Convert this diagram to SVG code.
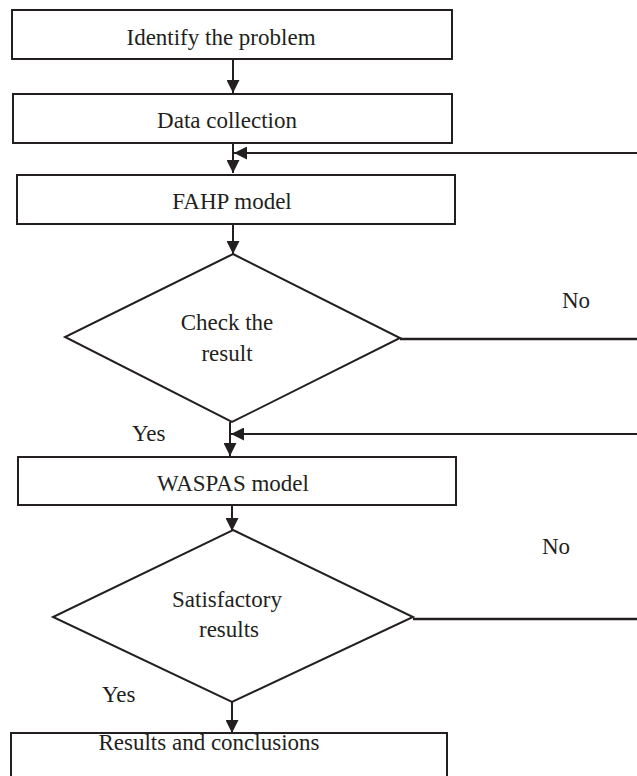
<svg xmlns="http://www.w3.org/2000/svg" width="637" height="776" viewBox="0 0 637 776">
<style>
.box{fill:#fff;stroke:#231f20;stroke-width:2}
.ln{fill:none;stroke:#231f20;stroke-width:2}
.no{fill:none;stroke:#231f20;stroke-width:2.6}
text{font-family:'Liberation Serif','Times New Roman',serif;font-size:23px;fill:#231f20}
.t{text-anchor:middle}
</style>
<defs>
<marker id="ah" markerUnits="userSpaceOnUse" markerWidth="14" markerHeight="13" refX="13" refY="6.5" orient="auto">
<path d="M0,0 L13,6.5 L0,13 z" fill="#231f20"/>
</marker>
</defs>
<rect width="637" height="776" fill="#fff"/>
<g id="connectors">
<line class="ln" x1="233" y1="59" x2="233" y2="93" marker-end="url(#ah)"/>
<line class="ln" x1="233" y1="143" x2="233" y2="173" marker-end="url(#ah)"/>
<line class="ln" x1="637" y1="153" x2="234" y2="153" marker-end="url(#ah)"/>
<line class="ln" x1="233" y1="224" x2="233" y2="254" marker-end="url(#ah)"/>
<line class="no" x1="400" y1="339" x2="637" y2="339"/>
<line class="ln" x1="230" y1="422" x2="230" y2="456" marker-end="url(#ah)"/>
<line class="ln" x1="637" y1="434" x2="231" y2="434" marker-end="url(#ah)"/>
<line class="ln" x1="232" y1="505" x2="232" y2="531" marker-end="url(#ah)"/>
<line class="no" x1="413" y1="619" x2="637" y2="619"/>
<line class="ln" x1="232" y1="702" x2="232" y2="733" marker-end="url(#ah)"/>
</g>
<g id="identify">
<rect class="box" x="12" y="10" width="440" height="49"/>
<text class="t" x="221" y="45" font-family="Liberation Serif, serif">Identify the problem</text>
</g>
<g id="data">
<rect class="box" x="13" y="94" width="439" height="49"/>
<text class="t" x="227" y="128" font-family="Liberation Serif, serif">Data collection</text>
</g>
<g id="fahp">
<rect class="box" x="17" y="175" width="438" height="49"/>
<text class="t" x="232" y="209" font-family="Liberation Serif, serif">FAHP model</text>
</g>
<g id="check">
<polygon class="box" points="233,254 400,338 232,422 65,337"/>
<text class="t" x="227" y="330" font-family="Liberation Serif, serif">Check the</text>
<text class="t" x="227" y="361" font-family="Liberation Serif, serif">result</text>
</g>
<g id="waspas">
<rect class="box" x="18" y="457" width="438" height="48"/>
<text class="t" x="233" y="491" font-family="Liberation Serif, serif">WASPAS model</text>
</g>
<g id="satisfactory">
<polygon class="box" points="233,530 413,617 232,702 53,617"/>
<text class="t" x="227" y="607" font-family="Liberation Serif, serif">Satisfactory</text>
<text class="t" x="229" y="637" font-family="Liberation Serif, serif">results</text>
</g>
<g id="results">
<rect class="box" x="11" y="733" width="436" height="60"/>
<text class="t" x="209" y="750" font-family="Liberation Serif, serif">Results and conclusions</text>
</g>
<g id="labels">
<text x="562" y="308" font-family="Liberation Serif, serif">No</text>
<text x="132" y="441" font-family="Liberation Serif, serif">Yes</text>
<text x="542" y="554" font-family="Liberation Serif, serif">No</text>
<text x="102" y="702" font-family="Liberation Serif, serif">Yes</text>
</g>
</svg>
